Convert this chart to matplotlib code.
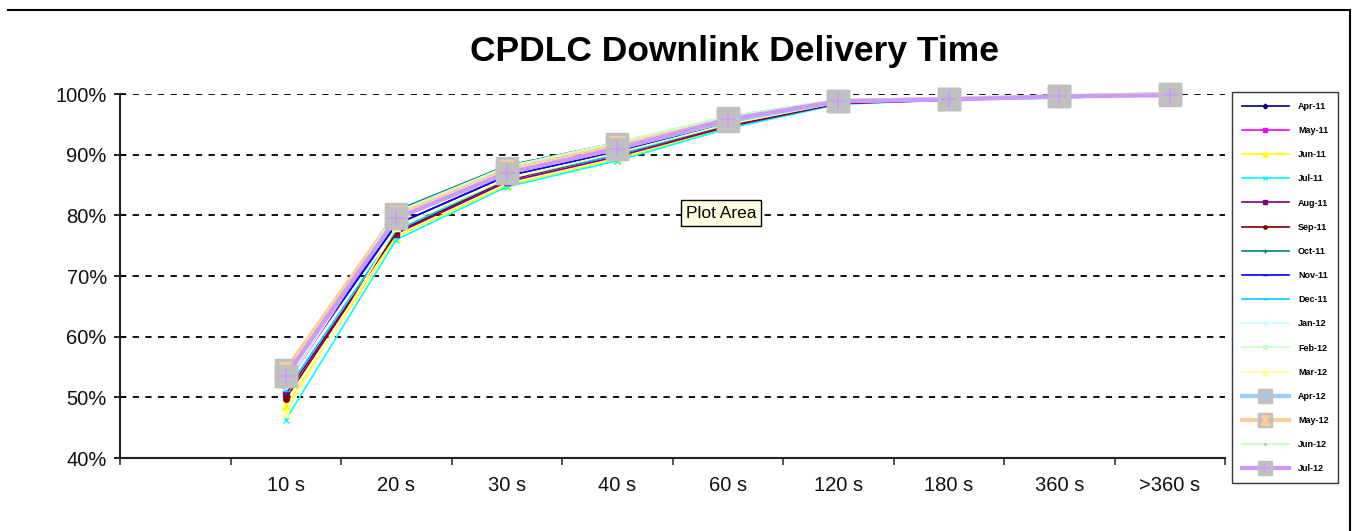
import matplotlib
matplotlib.use("Agg")
import matplotlib.pyplot as plt
from matplotlib.lines import Line2D
from matplotlib.legend_handler import HandlerTuple
from matplotlib.ticker import FixedLocator, PercentFormatter
import numpy as np

plt.rcParams['font.family'] = ['Liberation Sans', 'DejaVu Sans']

categories = ['', '10 s', '20 s', '30 s', '40 s', '60 s', '120 s', '180 s', '360 s', '>360 s']

series_names = ['Apr-11', 'May-11', 'Jun-11', 'Jul-11', 'Aug-11', 'Sep-11', 'Oct-11', 'Nov-11',
                'Dec-11', 'Jan-12', 'Feb-12', 'Mar-12', 'Apr-12', 'May-12', 'Jun-12', 'Jul-12']

# values for 10 s ... >360 s (first, empty category has no data)
apr11 = [52.5, 78.5, 86.5, 90.5, 95.3, 98.6, 99.1, 99.5, 100.0]
may11 = [52.0, 79.5, 87.0, 91.0, 95.6, 98.8, 99.2, 99.6, 100.0]
jun11 = [48.5, 76.5, 85.0, 89.3, 94.5, 98.4, 99.0, 99.5, 100.0]
jul11 = [46.3, 76.0, 84.7, 89.0, 94.3, 98.3, 99.0, 99.4, 100.0]
aug11 = [50.5, 77.0, 85.5, 89.7, 94.6, 98.4, 99.0, 99.5, 100.0]
sep11 = [49.8, 77.2, 85.8, 90.0, 94.8, 98.5, 99.0, 99.5, 100.0]
oct11 = [53.0, 80.8, 88.2, 92.0, 96.3, 99.0, 99.3, 99.6, 100.0]
nov11 = [53.0, 78.5, 86.5, 90.5, 95.3, 98.7, 99.1, 99.5, 100.0]
dec11 = [51.0, 77.5, 86.0, 90.0, 95.0, 98.6, 99.1, 99.3, 100.0]
jan12 = [52.0, 80.0, 87.8, 91.7, 96.0, 98.9, 99.2, 99.6, 100.0]
feb12 = [53.5, 80.5, 88.0, 92.0, 96.3, 99.0, 99.3, 99.6, 100.0]
mar12 = [47.5, 78.0, 86.0, 90.3, 95.0, 98.6, 99.1, 99.5, 100.0]
apr12 = [53.5, 79.5, 87.0, 91.0, 95.5, 98.8, 99.2, 99.6, 100.0]
may12 = [54.5, 80.3, 87.8, 91.7, 96.0, 98.9, 99.2, 99.6, 100.0]
jun12 = [52.5, 80.5, 88.0, 92.0, 96.3, 99.0, 99.3, 99.6, 100.0]
jul12 = [53.5, 79.5, 87.0, 91.0, 95.8, 98.8, 99.1, 99.6, 99.8]

all_values = [apr11, may11, jun11, jul11, aug11, sep11, oct11, nov11,
              dec11, jan12, feb12, mar12, apr12, may12, jun12, jul12]

colors = ['#000080', '#FF00FF', '#FFFF00', '#00FFFF', '#800080', '#800000', '#008080', '#0000FF',
          '#00CCFF', '#CCFFFF', '#CCFFCC', '#FFFF99', '#99CCFF', '#FFCC99', '#CCFFCC', '#CC99FF']
markers = ['D', 's', '^', 'x', 's', 'o', '+', '_', '_', 'D', 's', '^', 's', 's', '.', 's']
msizes = [4, 5, 6, 5, 4, 4, 5, 5, 6, 4, 5, 6, 16, 16, 4, 16]
lwidths = [1.2, 1.2, 1.2, 1.2, 1.2, 1.2, 1.2, 1.2, 1.2, 1.2, 1.2, 1.2, 3, 3, 1.5, 3]
overlay = {12: ('x', '#99CCFF'), 13: ('$\u29D7$', '#FFCC99'), 15: ('+', '#CC99FF')}

W, H = 1358, 531
fig = plt.figure(figsize=(W / 100, H / 100), dpi=100)
ax = fig.add_axes([120 / W, 1 - 458 / H, (1225 - 120) / W, (458 - 94) / H])

x = np.arange(1, len(categories))
handles = []
for i, (name, vals) in enumerate(zip(series_names, all_values)):
    y = np.array(vals) / 100.0
    grey = i in (12, 13, 14, 15)
    mfc = '#C0C0C0' if grey else colors[i]
    ln, = ax.plot(x, y, color=colors[i], lw=lwidths[i], marker=markers[i], ms=msizes[i],
                  mfc=mfc, mec=mfc if grey else colors[i], clip_on=False, zorder=3 + i * 0.01)
    if i in overlay:
        m, c = overlay[i]
        ov, = ax.plot(x, y, ls='none', marker=m, ms=11, mec=c, mfc=c, mew=1.2,
                      clip_on=False, zorder=3 + i * 0.01 + 0.005)
        handles.append((ln, ov))
    else:
        handles.append(ln)

ax.set_xlim(0.5 - 1, len(categories) - 0.5)
ax.set_ylim(0.4, 1.0)
ax.xaxis.set_major_locator(FixedLocator(np.arange(-0.5, len(categories), 1.0)))
ax.xaxis.set_minor_locator(FixedLocator(np.arange(0, len(categories))))
ax.set_xticklabels([], minor=False)
ax.set_xticklabels(categories, minor=True)
ax.tick_params(axis='x', which='major', direction='out', length=5, width=1.2, color='#333333')
ax.tick_params(axis='x', which='minor', length=0, pad=13, labelsize=14.5, labelcolor='#111111')
ax.yaxis.set_major_locator(FixedLocator(np.arange(0.4, 1.001, 0.1)))
ax.yaxis.set_major_formatter(PercentFormatter(1.0, decimals=0))
ax.tick_params(axis='y', direction='inout', length=9, width=1.2, pad=5, labelsize=14.5,
               labelcolor='#111111')

for gy in np.arange(0.5, 1.001, 0.1):
    ax.axhline(gy, color='black', lw=1.3, ls=(0, (3.5, 3.5)), zorder=1)

for s in ['top', 'right']:
    ax.spines[s].set_visible(False)
for s in ['left', 'bottom']:
    ax.spines[s].set_linewidth(1.5)
    ax.spines[s].set_color('#222222')

fig.text(735 / W, 1 - 52 / H, 'CPDLC Downlink Delivery Time', ha='center', va='center',
         fontsize=25.5, fontweight='bold')

leg = fig.legend(handles, series_names, loc='upper left',
                 bbox_to_anchor=(1232 / W, 1 - 92 / H), bbox_transform=fig.transFigure,
                 prop={'weight': 'bold', 'size': 6.5}, frameon=True, fancybox=False,
                 edgecolor='black', handlelength=5.2, labelspacing=1.68, borderpad=1.1,
                 handletextpad=1.0, borderaxespad=0,
                 handler_map={tuple: HandlerTuple(ndivide=1)}, markerscale=0.6)
leg.get_frame().set_linewidth(1.0)

# Tooltip "Plot Area"
fig.text(721 / W, 1 - 213 / H, 'Plot Area', ha='center', va='center', fontsize=12.5,
         bbox=dict(boxstyle='square,pad=0.3', fc='#FFFFE1', ec='black', lw=1))

# chart border (top and right)
fig.add_artist(Line2D([8 / W, 1350 / W], [1 - 10 / H, 1 - 10 / H], color='black', lw=1.5,
                      transform=fig.transFigure))
fig.add_artist(Line2D([1350 / W, 1350 / W], [1 - 10 / H, 0], color='black', lw=1.5,
                      transform=fig.transFigure))

fig.savefig('out.png', dpi=100)
